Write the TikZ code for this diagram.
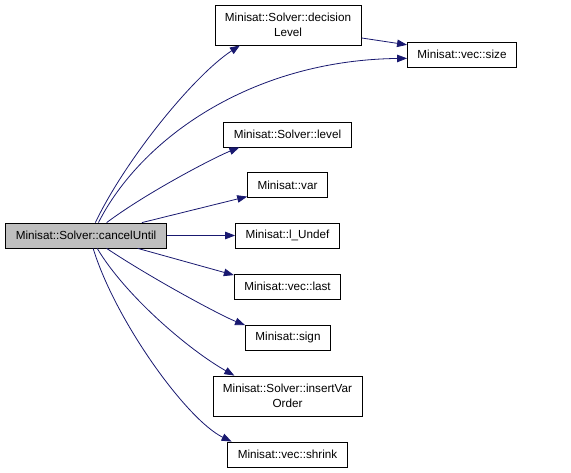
\documentclass[tikz,border=0pt]{standalone}
\usepackage{fontspec}
\setmainfont{Liberation Sans}
\usetikzlibrary{arrows.meta}
\definecolor{EdgeColor}{RGB}{25,25,112}
\definecolor{RootGray}{RGB}{191,191,191}

\begin{document}
\begin{tikzpicture}[x=1pt,y=1pt,
    fn/.style={draw, line width=0.8pt, fill=white, inner xsep=10pt, minimum height=25pt,
      align=center, font=\fontsize{11.7}{14.5}\selectfont},
    call/.style={-{Triangle[length=10pt,width=7.5pt]}, EdgeColor, line width=0.8pt}]
  \useasboundingbox (0,0) rectangle (571,-473);
  % caller
  \node[fn, fill=RootGray] (cancel) at (86,-235.5) {Minisat::Solver::cancelUntil};
  % callees
  \node[fn, minimum height=40pt] (declev) at (288,-25) {Minisat::Solver::decision\\Level};
  \node[fn] (vsize) at (462,-54.5) {Minisat::vec::size};
  \node[fn] (level) at (287.5,-134.5) {Minisat::Solver::level};
  \node[fn] (var) at (287.5,-185) {Minisat::var};
  \node[fn] (lundef) at (287.5,-235.5) {Minisat::l\_Undef};
  \node[fn] (vlast) at (287.5,-286.5) {Minisat::vec::last};
  \node[fn] (sign) at (288,-337.5) {Minisat::sign};
  \node[fn, minimum height=40pt] (insvar) at (287.5,-396) {Minisat::Solver::insertVar\\Order};
  \node[fn] (shrink) at (287.5,-454.5) {Minisat::vec::shrink};
  % calls
  \draw[call] (cancel.54) .. controls +(30,63) and +(-46,-30) .. (declev.203);
  \draw[call] (cancel.46) .. controls +(42,83) and +(-157,-2) .. (vsize.184);
  \draw[call] (declev.350) -- (vsize.170);
  \draw[call] (cancel.32) .. controls +(40,30) and +(-25,-10) .. (level.195);
  \draw[call] (cancel.13.5) -- (var.196.5);
  \draw[call] (cancel.east) -- (lundef.west);
  \draw[call] (cancel.346.5) -- (vlast.168);
  \draw[call] (cancel.328) .. controls +(45,-30) and +(-25,10) .. (sign.164);
  \draw[call] (cancel.311) .. controls +(28,-47) and +(-46,26) .. (insvar.159);
  \draw[call] (cancel.299) .. controls +(22,-72) and +(-45,22) .. (shrink.167);
\end{tikzpicture}
\end{document}
